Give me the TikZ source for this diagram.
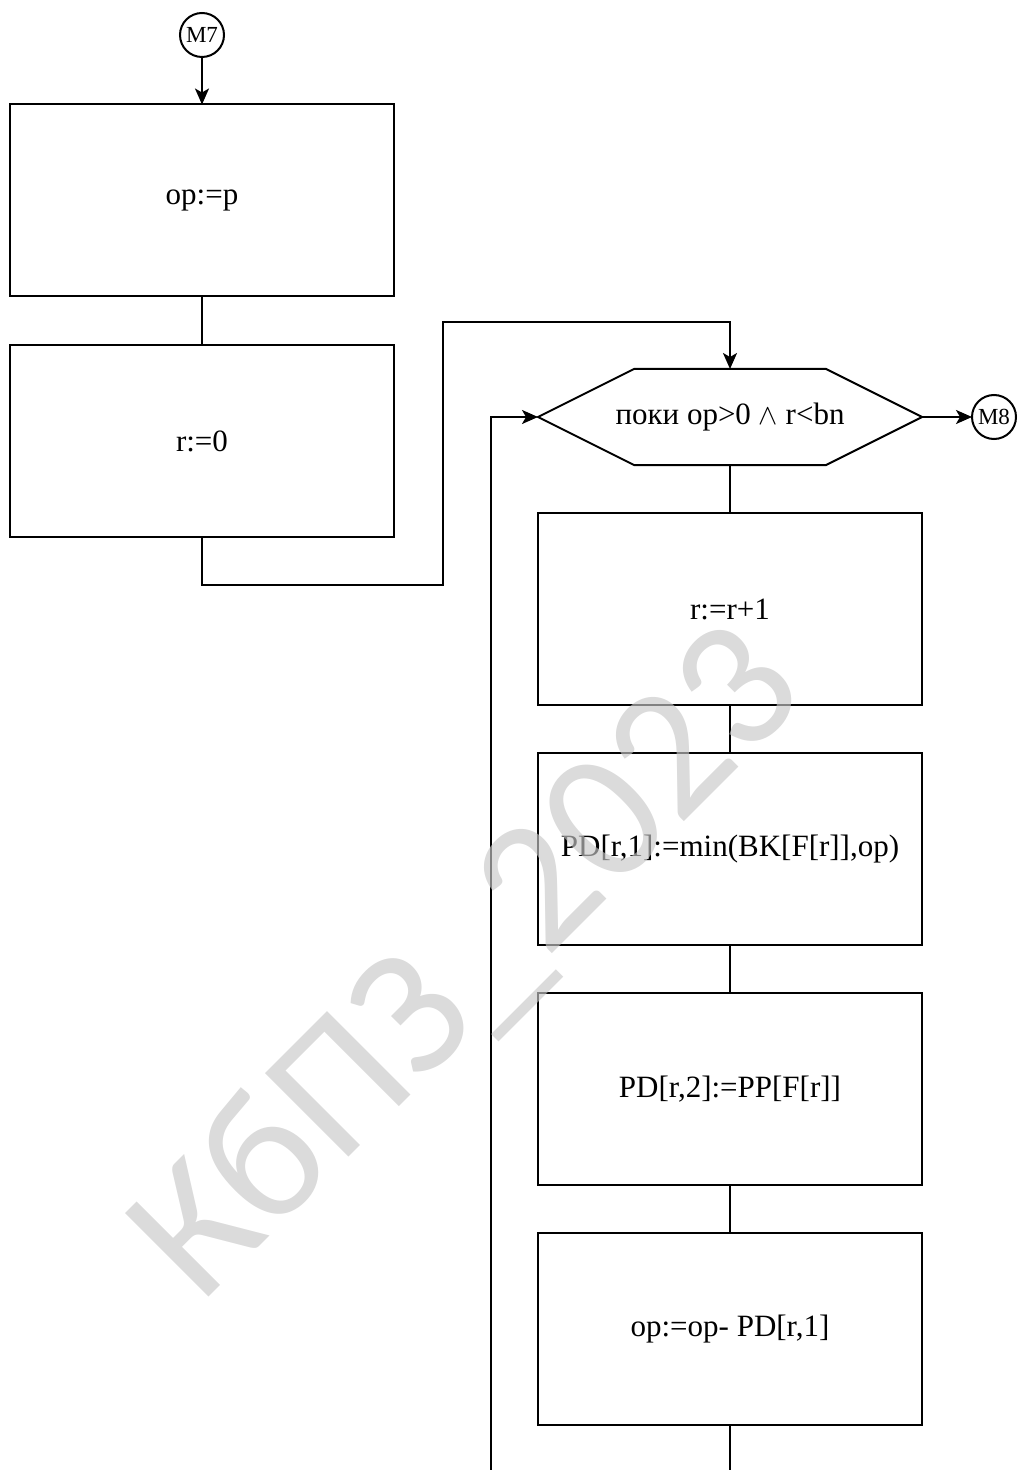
\documentclass[tikz,border=0pt]{standalone}
\usepackage{fontspec}
\setmainfont{Liberation Serif}
\newfontfamily\wmfont{Carlito}
\usetikzlibrary{arrows.meta}
\begin{document}
\begin{tikzpicture}[x=0.5pt,y=-0.5pt,
  line width=1pt,
  box/.style={draw, rectangle, minimum width=192pt, minimum height=96pt, outer sep=0pt, inner sep=0pt, font=\fontsize{15.5}{18}\selectfont},
  hexbox/.style={rectangle, minimum width=192pt, minimum height=48pt, outer sep=0pt, inner sep=0pt, font=\fontsize{15.5}{18}\selectfont},
  conn/.style={draw, circle, minimum size=22pt, inner sep=0pt, outer sep=0pt, font=\fontsize{11.5}{13}\selectfont},
  arr/.style={-{Stealth[length=8pt,width=7pt,inset=2pt]}},
  wm/.style={text=black!22, opacity=0.65, font=\wmfont\fontsize{92}{96}\selectfont, inner sep=0pt, rotate=45, anchor=base west}
]
\useasboundingbox (0,0) rectangle (1020,1470);
\node[conn] (m7) at (202,35) {M7};
\node[box] (b1) at (202,200.5) {op:=p};
\node[box] (b2) at (202,441) {r:=0};
\node[hexbox] (hex) at (730,417) {поки op>0 \ensuremath{\wedge} r<bn};
\draw (hex.west) -- ([xshift=48pt]hex.north west) -- ([xshift=-48pt]hex.north east) -- (hex.east) -- ([xshift=-48pt]hex.south east) -- ([xshift=48pt]hex.south west) -- cycle;
\node[conn] (m8) at (994,417) {M8};
\node[box] (b3) at (730,609) {r:=r+1};
\node[box] (b4) at (730,849) {PD[r,1]:=min(BK[F[r]],op)};
\node[box] (b5) at (730,1089) {PD[r,2]:=PP[F[r]]};
\node[box] (b6) at (730,1329) {op:=op- PD[r,1]};
\coordinate (loopend) at (491,1470);
\coordinate (downend) at (730,1470);
\draw[arr] (m7) -- (b1);
\draw (b1) -- (b2);
\draw[arr] (b2.south) -- ++(0,48) -| (443,322) -| (hex.north);
\draw[arr] (hex.east) -- (m8);
\draw (hex.south) -- (b3.north);
\draw (b3) -- (b4);
\draw (b4) -- (b5);
\draw (b5) -- (b6);
\draw (b6.south) -- (downend);
\draw[arr] (loopend) -- (491,417) -- (hex.west);
\node[wm] (wmark) at (200,1306) {КбПЗ\_2023};
\end{tikzpicture}
\end{document}
